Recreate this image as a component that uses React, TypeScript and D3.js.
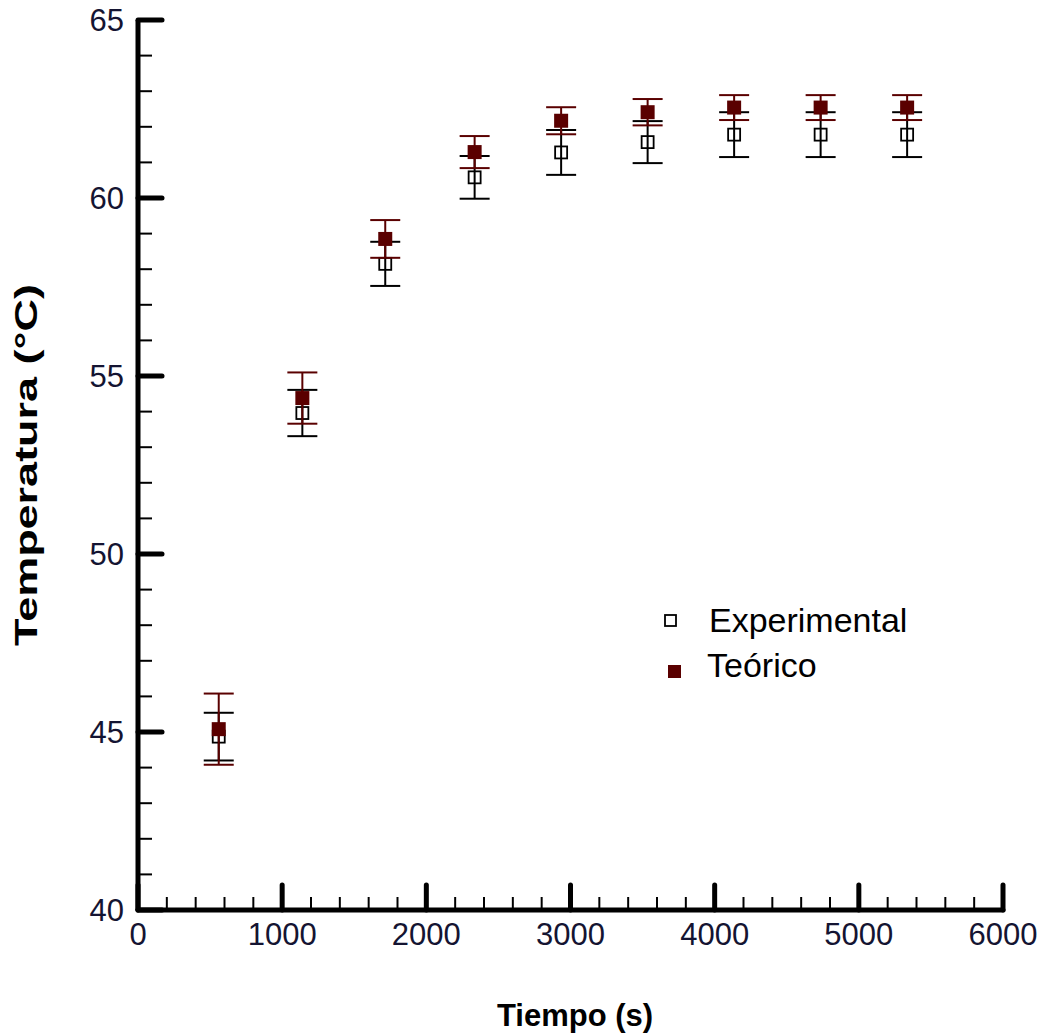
import React from "react";
import * as d3 from "d3";

const timeS = [560, 1140, 1715, 2335, 2935, 3535, 4135, 4735, 5335];
const expTemp = [44.87, 53.96, 58.15, 60.58, 61.28, 61.57, 61.78, 61.78, 61.78];
const expErr = [0.67, 0.65, 0.62, 0.6, 0.63, 0.59, 0.63, 0.63, 0.63];
const teoTemp = [45.08, 54.38, 58.85, 61.29, 62.17, 62.41, 62.54, 62.54, 62.54];
const teoErr = [1.0, 0.72, 0.53, 0.45, 0.38, 0.37, 0.35, 0.35, 0.35];
const xMajorTicks = [0, 1000, 2000, 3000, 4000, 5000, 6000];
const yMajorTicks = [40, 45, 50, 55, 60, 65];
const legendLabels = ["Experimental", "Teórico"];

const W = 1045;
const H = 1034;
const RED = "#5a0000";

export default function App() {
  const x = d3.scaleLinear().domain([0, 6000]).range([138, 1003]);
  const y = d3.scaleLinear().domain([40, 65]).range([910, 20]);
  const xMinor = d3.range(0, 6001, 200).filter((v) => v % 1000 !== 0);
  const yMinor = d3.range(40, 65.01, 1).filter((v) => v % 5 !== 0);
  const font = "'Liberation Sans', Arial, sans-serif";
  const cap = 15;

  return (
    <svg width={W} height={H} style={{ position: "absolute", left: 0, top: 0, background: "#fff" }}>
      {/* minor ticks */}
      {xMinor.map((v) => (
        <line key={"xm" + v} x1={x(v)} x2={x(v)} y1={910} y2={897} stroke="#000" strokeWidth={2} />
      ))}
      {yMinor.map((v) => (
        <line key={"ym" + v} x1={138} x2={152} y1={y(v)} y2={y(v)} stroke="#000" strokeWidth={2} />
      ))}
      {/* major ticks */}
      {xMajorTicks.map((v) => (
        <line key={"xM" + v} x1={x(v)} x2={x(v)} y1={910} y2={885} stroke="#000" strokeWidth={5} strokeLinecap="round" />
      ))}
      {yMajorTicks.map((v) => (
        <line key={"yM" + v} x1={138} x2={162} y1={y(v)} y2={y(v)} stroke="#000" strokeWidth={5} strokeLinecap="round" />
      ))}
      {/* axes */}
      <line x1={138} x2={138} y1={20} y2={910} stroke="#000" strokeWidth={5} />
      <line x1={138} x2={1003} y1={910} y2={910} stroke="#000" strokeWidth={5} strokeLinecap="round" />
      {/* tick labels */}
      {xMajorTicks.map((v) => (
        <text key={"xl" + v} x={x(v)} y={945} textAnchor="middle" fontFamily={font} fontSize={31} fill="#141432">
          {v}
        </text>
      ))}
      {yMajorTicks.map((v) => (
        <text key={"yl" + v} x={124} y={y(v) + 11} textAnchor="end" fontFamily={font} fontSize={31} fill="#141432">
          {v}
        </text>
      ))}
      {/* axis titles */}
      <text x={575} y={1026} textAnchor="middle" fontFamily={font} fontWeight="bold" fontSize={31} fill="#000">
        Tiempo (s)
      </text>
      <text
        transform={`translate(37,465) rotate(-90)`}
        textAnchor="middle"
        fontFamily={font}
        fontWeight="bold"
        fontSize={31}
        textLength={362}
        lengthAdjust="spacingAndGlyphs"
        fill="#000"
      >
        Temperatura (°C)
      </text>
      {/* experimental series */}
      {timeS.map((t, i) => {
        const cx = x(t);
        const top = y(expTemp[i] + expErr[i]);
        const bot = y(expTemp[i] - expErr[i]);
        return (
          <g key={"e" + i}>
            <line x1={cx} x2={cx} y1={top} y2={bot} stroke="#000" strokeWidth={2} />
            <line x1={cx - cap} x2={cx + cap} y1={top} y2={top} stroke="#000" strokeWidth={2} />
            <line x1={cx - cap} x2={cx + cap} y1={bot} y2={bot} stroke="#000" strokeWidth={2} />
            <rect x={cx - 6} y={y(expTemp[i]) - 6} width={12} height={12} fill="none" stroke="#000" strokeWidth={1.8} />
          </g>
        );
      })}
      {/* theoretical series */}
      {timeS.map((t, i) => {
        const cx = x(t);
        const top = y(teoTemp[i] + teoErr[i]);
        const bot = y(teoTemp[i] - teoErr[i]);
        return (
          <g key={"t" + i}>
            <line x1={cx} x2={cx} y1={top} y2={bot} stroke={RED} strokeWidth={2} />
            <line x1={cx - cap} x2={cx + cap} y1={top} y2={top} stroke={RED} strokeWidth={2} />
            <line x1={cx - cap} x2={cx + cap} y1={bot} y2={bot} stroke={RED} strokeWidth={2} />
            <rect x={cx - 7} y={y(teoTemp[i]) - 7} width={14} height={14} fill={RED} />
          </g>
        );
      })}
      {/* legend */}
      <rect x={665} y={615} width={11} height={11} fill="none" stroke="#000" strokeWidth={1.8} />
      <text x={709} y={632} fontFamily={font} fontSize={34} fill="#000">
        {legendLabels[0]}
      </text>
      <rect x={668} y={665} width={13} height={13} fill={RED} />
      <text x={707} y={677} fontFamily={font} fontSize={34} fill="#000">
        {legendLabels[1]}
      </text>
    </svg>
  );
}
